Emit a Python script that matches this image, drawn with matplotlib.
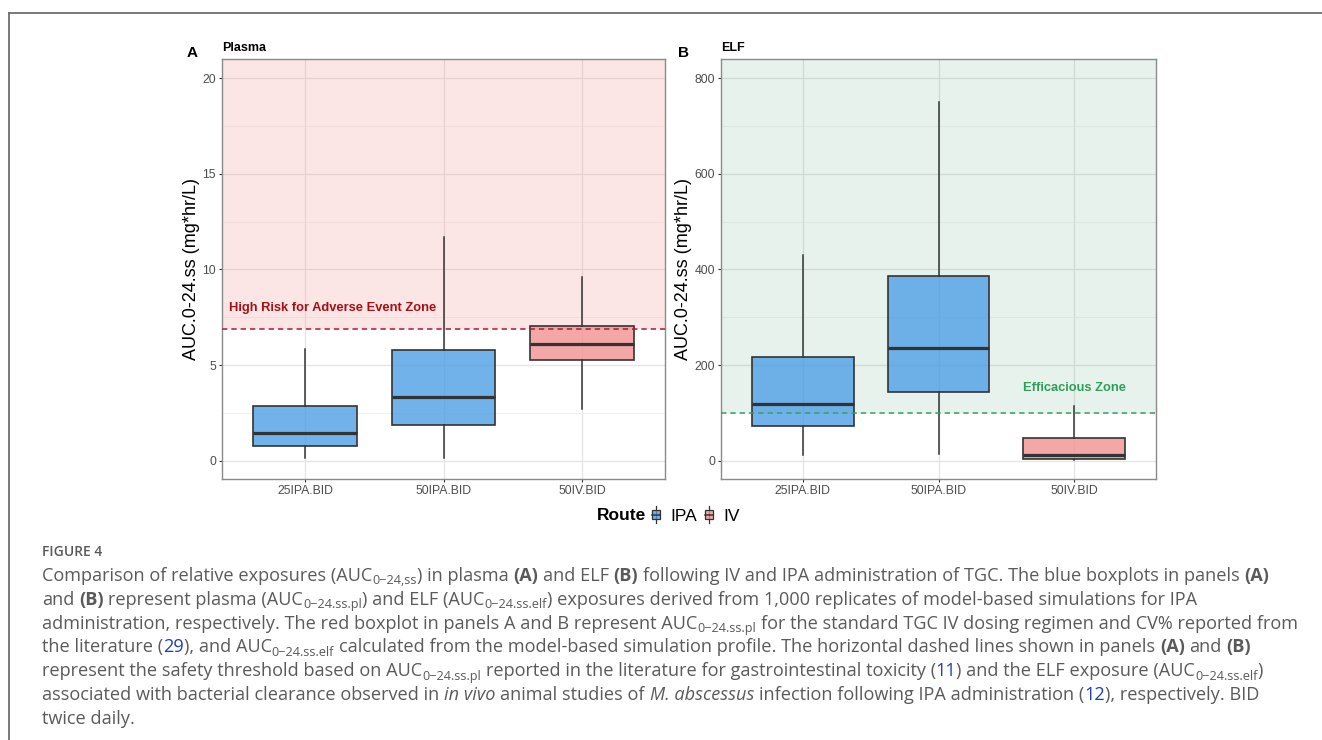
import numpy as np
import matplotlib
matplotlib.use("Agg")
import matplotlib.pyplot as plt
from matplotlib.patches import Patch, Rectangle
from matplotlib.lines import Line2D
from matplotlib.legend_handler import HandlerBase

plt.rcParams['font.family'] = ['Liberation Sans', 'DejaVu Sans']

# data
categories = ['25IPA.BID', '50IPA.BID', '50IV.BID']
routes = ['IPA', 'IPA', 'IV']

plasma_whislo = [0.12, 0.12, 2.69]
plasma_q1 = [0.78, 1.85, 5.24]
plasma_med = [1.46, 3.34, 6.10]
plasma_q3 = [2.86, 5.80, 7.02]
plasma_whishi = [5.85, 11.70, 9.58]

elf_whislo = [12.5, 14.6, 0.8]
elf_q1 = [72, 143, 3]
elf_med = [119, 236, 11.3]
elf_q3 = [217, 387, 48]
elf_whishi = [430, 751, 114]

plasma_threshold = 6.87
elf_threshold = 101
plasma_yticks = [0, 5, 10, 15, 20]
elf_yticks = [0, 200, 400, 600, 800]

route_fill = {'IPA': '#4a9de6', 'IV': '#f08e8e'}
EDGE = '#333333'
W, H = 1322, 740


def make_stats(lo, q1, med, q3, hi):
    return [dict(whislo=a, q1=b, med=c, q3=d, whishi=e, fliers=[], label=lab)
            for a, b, c, d, e, lab in zip(lo, q1, med, q3, hi, categories)]


def style_panel(ax, yticks, ylim):
    ax.set_yticks(yticks)
    step = yticks[1] - yticks[0]
    ax.set_yticks([v + step / 2 for v in yticks[:-1]], minor=True)
    ax.set_xticks([1, 2, 3])
    ax.set_xticklabels(categories)
    ax.set_xlim(0.4, 3.6)
    ax.set_ylim(*ylim)
    ax.set_axisbelow(True)
    ax.grid(which='major', color='#e4e4e4', lw=0.9)
    ax.grid(which='minor', axis='y', color='#f0f0f0', lw=0.6)
    ax.tick_params(which='major', length=2.5, width=0.8, color=EDGE,
                   labelcolor='#4d4d4d', labelsize=8.8, pad=1.8)
    ax.tick_params(which='minor', length=0)
    for s in ax.spines.values():
        s.set_color('#8a8a8a')
        s.set_linewidth(1.0)
    ax.set_ylabel('AUC.0-24.ss (mg*hr/L)', fontsize=13, labelpad=2)


def draw_boxes(ax, stats):
    bp = ax.bxp(stats, positions=[1, 2, 3], widths=0.75, patch_artist=True,
                showfliers=False, showcaps=False,
                boxprops=dict(edgecolor=EDGE, linewidth=1.2),
                whiskerprops=dict(color=EDGE, linewidth=1.1),
                medianprops=dict(color=EDGE, linewidth=2.3, solid_capstyle='butt'))
    for box, r in zip(bp['boxes'], routes):
        box.set_facecolor(matplotlib.colors.to_rgba(route_fill[r], 0.78))
        box.set_zorder(2)
    for ln in bp['whiskers'] + bp['medians']:
        ln.set_zorder(2.1)
    return bp


fig = plt.figure(figsize=(W / 100, H / 100), dpi=100)

# panel A - plasma
axA = fig.add_axes([222 / W, 1 - 479 / H, 443 / W, 420 / H])
draw_boxes(axA, make_stats(plasma_whislo, plasma_q1, plasma_med, plasma_q3, plasma_whishi))
style_panel(axA, plasma_yticks, (-0.96, 21.0))
axA.axhspan(plasma_threshold, 21.0, color='#f08080', alpha=0.2, lw=0, zorder=0.8)
axA.axhline(plasma_threshold, color='#b2182b', lw=1.1, ls=(0, (3.5, 2.6)), zorder=3)
axA.text(0.45, 7.98, 'High Risk for Adverse Event Zone', color='#a50f15',
         fontsize=9.3, fontweight='bold', ha='left', va='center', zorder=4)

# panel B - ELF
axB = fig.add_axes([721 / W, 1 - 479 / H, 435 / W, 420 / H])
draw_boxes(axB, make_stats(elf_whislo, elf_q1, elf_med, elf_q3, elf_whishi))
style_panel(axB, elf_yticks, (-38, 840))
axB.axhspan(elf_threshold, 840, color='#2e8b57', alpha=0.11, lw=0, zorder=0.8)
axB.axhline(elf_threshold, color='#3a9d63', lw=1.1, ls=(0, (3.5, 2.6)), zorder=3)
axB.text(3, 152, 'Efficacious Zone', color='#2e9e5b', fontsize=9.3,
         fontweight='bold', ha='center', va='center', zorder=4)

# panel tags and titles
fig.text(187 / W, 1 - 57 / H, 'A', fontsize=11, fontweight='bold', va='baseline')
fig.text(222 / W, 1 - 51 / H, 'Plasma', fontsize=9, fontweight='bold', va='baseline')
fig.text(678 / W, 1 - 57 / H, 'B', fontsize=11, fontweight='bold', va='baseline')
fig.text(721 / W, 1 - 51 / H, 'ELF', fontsize=9, fontweight='bold', va='baseline')


# legend with little boxplot keys
class BoxKey(HandlerBase):
    def create_artists(self, legend, orig, xd, yd, w, h, fontsize, trans):
        x0, y0 = -xd, -yd
        fc = orig.get_facecolor()
        whisk = Line2D([x0 + w / 2] * 2, [y0 - 0.2 * h, y0 + 1.2 * h], color=EDGE, lw=0.9)
        box = Rectangle((x0, y0 + 0.12 * h), w, 0.76 * h, facecolor=fc, edgecolor=EDGE, lw=0.9)
        med = Line2D([x0, x0 + w], [y0 + h / 2] * 2, color=EDGE, lw=1.1)
        arts = [whisk, box, med]
        for a in arts:
            a.set_transform(trans)
        return arts


handles = [Patch(facecolor=matplotlib.colors.to_rgba(route_fill[r], 0.78)) for r in ['IPA', 'IV']]
fig.text(646 / W, 1 - 516 / H, 'Route', fontsize=12.5, fontweight='bold',
         ha='right', va='center')
fig.legend(handles=handles, labels=['IPA', 'IV'], handler_map={Patch: BoxKey()},
           ncol=2, loc='center left', bbox_to_anchor=(652 / W, 1 - 516 / H),
           frameon=False, fontsize=12.5, handlelength=0.45, handleheight=0.7,
           handletextpad=0.6, columnspacing=0.45, borderpad=0, borderaxespad=0)

# frame around the figure
fig.add_artist(Line2D([9 / W, 1], [1 - 13 / H] * 2, transform=fig.transFigure,
                      color='#6e6e6e', lw=1.3))
fig.add_artist(Line2D([9 / W, 9 / W], [0, 1 - 13 / H], transform=fig.transFigure,
                      color='#6e6e6e', lw=1.3))

# caption, written as runs: (text, style)  n=normal, s=subscript, b=bold, i=italic, l=link
CAP = '#5a5a5a'
LINK = '#1f3fbf'
CAP_SIZE = 13.05
fig.text(42 / W, 1 - 556 / H, 'FIGURE 4', fontsize=10, color='#595959',
         family='Open Sans', fontweight='semibold', va='baseline')

caption_lines = [
    [('Comparison of relative exposures (AUC', 'n'), ('0\u221224,ss', 's'), (') in plasma ', 'n'),
     ('(A)', 'b'), (' and ELF ', 'n'), ('(B)', 'b'),
     (' following IV and IPA administration of TGC. The blue boxplots in panels ', 'n'), ('(A)', 'b')],
    [('and ', 'n'), ('(B)', 'b'), (' represent plasma (AUC', 'n'), ('0\u221224.ss.pl', 's'),
     (') and ELF (AUC', 'n'), ('0\u221224.ss.elf', 's'),
     (') exposures derived from 1,000 replicates of model-based simulations for IPA', 'n')],
    [('administration, respectively. The red boxplot in panels A and B represent AUC', 'n'),
     ('0\u221224.ss.pl', 's'), (' for the standard TGC IV dosing regimen and CV% reported from', 'n')],
    [('the literature (', 'n'), ('29', 'l'), ('), and AUC', 'n'), ('0\u221224.ss.elf', 's'),
     (' calculated from the model-based simulation profile. The horizontal dashed lines shown in panels ', 'n'),
     ('(A)', 'b'), (' and ', 'n'), ('(B)', 'b')],
    [('represent the safety threshold based on AUC', 'n'), ('0\u221224.ss.pl', 's'),
     (' reported in the literature for gastrointestinal toxicity (', 'n'), ('11', 'l'),
     (') and the ELF exposure (AUC', 'n'), ('0\u221224.ss.elf', 's'), (')', 'n')],
    [('associated with bacterial clearance observed in ', 'n'), ('in vivo', 'i'),
     (' animal studies of ', 'n'), ('M. abscessus', 'i'),
     (' infection following IPA administration (', 'n'), ('12', 'l'), ('), respectively. BID', 'n')],
    [('twice daily.', 'n')],
]

renderer = fig.canvas.get_renderer()


def text_width(s, **kw):
    t = fig.text(0, 0, s, **kw)
    w = t.get_window_extent(renderer).width
    t.remove()
    return w


base_kw = dict(family='Open Sans', fontsize=CAP_SIZE)
space_w = text_width('a a', **base_kw) - text_width('aa', **base_kw)

base0, step = 581, 23.8
for i, runs in enumerate(caption_lines):
    x = 42
    y = base0 + i * step
    for txt, st in runs:
        kw = dict(family='Open Sans', fontsize=CAP_SIZE, color=CAP)
        dy = 0
        if st == 's':
            kw['fontsize'] = CAP_SIZE * 0.7
            dy = 3.5
        elif st == 'b':
            kw['fontweight'] = 'bold'
        elif st == 'i':
            kw['fontstyle'] = 'italic'
        elif st == 'l':
            kw['color'] = LINK
        core = txt.strip(' ')
        lead = len(txt) - len(txt.lstrip(' '))
        trail = len(txt) - len(txt.rstrip(' '))
        x += lead * space_w
        t = fig.text(x / W, 1 - (y + dy) / H, core, va='baseline', ha='left', **kw)
        x += t.get_window_extent(renderer).width + trail * space_w

fig.savefig('out.png', dpi=100)
